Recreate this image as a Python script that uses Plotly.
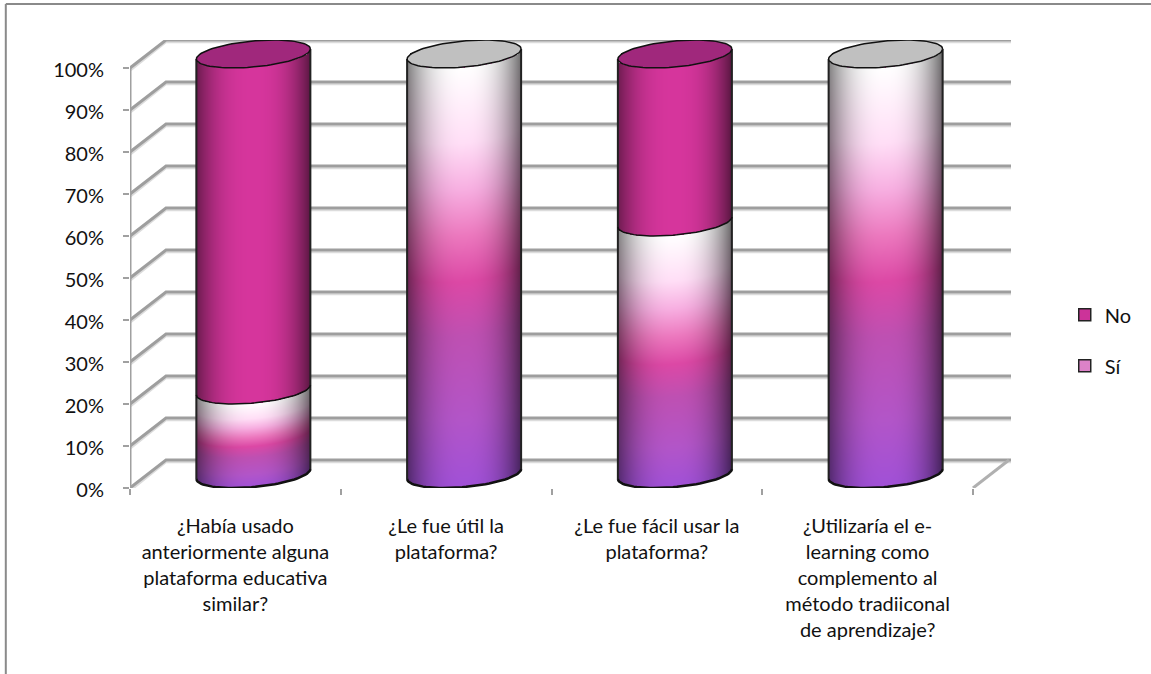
import numpy as np
import plotly.graph_objects as go

categories = [
    "¿Había usado<br>anteriormente alguna<br>plataforma educativa<br>similar?",
    "¿Le fue útil la<br>plataforma?",
    "¿Le fue fácil usar la<br>plataforma?",
    "¿Utilizaría el e-<br>learning como<br>complemento al<br>método tradiiconal<br>de aprendizaje?",
]
si_values = [20, 100, 60, 100]
no_values = [80, 0, 40, 0]
y_ticks = [0, 10, 20, 30, 40, 50, 60, 70, 80, 90, 100]

# geometry of the pseudo-3D box (pixels per unit)
PX_X, PX_Y = 210.75, 4.2
DX, DY = 36 / PX_X, 28 / PX_Y
X0, X1 = 0.5, 0.5 + 881 / PX_X
Y1 = 448 / PX_Y
SHIFT_X, SHIFT_Y = 18 / PX_X, 14 / PX_Y
A, B, K = 57.0, 13.0, 5.0   # ellipse half width, half height, skew (px)


def grad(f):
    stops = [0, 0.16, 0.36, 0.49, 0.6, 0.71, 0.82, 1.0]
    r = [160, 178, 190, 220, 236, 247, 255, 255]
    g = [80, 85, 80, 72, 120, 175, 222, 255]
    b = [215, 200, 178, 165, 190, 225, 246, 255]
    return np.stack([np.interp(f, stops, r), np.interp(f, stops, g), np.interp(f, stops, b)], -1)


def cylinder_image(si, no):
    cols = np.arange(-int(A), int(A) + 1)
    total = si + no
    rows = np.arange(-16, total * PX_Y + 18)
    xx, hh = np.meshgrid(cols, rows)
    u = np.clip(xx / A, -1, 1)
    e = K * u - B * np.sqrt(1 - u ** 2)
    v = (hh - e) / PX_Y
    rgb = np.where((v < si)[..., None], grad(np.clip(v / si, 0, 1)), np.array([214.0, 53.0, 156.0]))
    shade = 1 - np.where(u > 0, 0.58, 0.5) * np.abs(u) ** 2.5
    rgb = rgb * shade[..., None]
    alpha = ((v >= 0) & (v <= total)).astype(float)
    z = np.dstack([np.round(rgb), alpha])
    return z.tolist(), rows[0] / PX_Y


def arc(c, level, full=False):
    t = np.linspace(0, 2 * np.pi, 91) if full else np.linspace(np.pi, 2 * np.pi, 46)
    return c + A / PX_X * np.cos(t), level + (K * np.cos(t) + B * np.sin(t)) / PX_Y


fig = go.Figure()

# walls and gridlines
gx, gy, sx, sy = [], [], [], []
for t in y_ticks:
    gx += [X0, X0 + DX, X1, None]
    gy += [t, t + DY, t + DY, None]
    sx += [X0 + 0.004, X0 + DX, X1, None]
    sy += [t - 0.55, t + DY - 0.55, t + DY - 0.55, None]
common = dict(mode="lines", showlegend=False, hoverinfo="skip", cliponaxis=False)
fig.add_trace(go.Scatter(x=sx, y=sy, line=dict(color="#dcdcdc", width=2), **common))
fig.add_trace(go.Scatter(x=gx, y=gy, line=dict(color="#9e9e9e", width=3), **common))
fig.add_trace(go.Scatter(x=[X0, X0], y=[y_ticks[0], y_ticks[-1]], line=dict(color="#a0a0a0", width=3), **common))
fig.add_trace(go.Scatter(x=[X0, 4.5], y=[-0.4, -0.4], line=dict(color="#d8d8d8", width=3), **common))
fig.add_trace(go.Scatter(x=[4.5, 4.5 + DX], y=[0, DY], line=dict(color="#b0b0b0", width=3), **common))

# data bars (stacked), slightly narrower than the shaded cylinders laid over them
xs = [1, 2, 3, 4]
fig.add_trace(go.Bar(x=xs, y=si_values, name="Sí", width=0.5, xaxis="x2", yaxis="y2", legendgroup="a", legendrank=2,
                     marker=dict(color="#DC82C8", line=dict(color="#222222", width=1.5))))
fig.add_trace(go.Bar(x=xs, y=no_values, name="No", width=0.5, xaxis="x2", yaxis="y2", legendgroup="b", legendrank=1,
                     marker=dict(color="#CC3399", line=dict(color="#222222", width=1.5))))

# shaded cylinders
over = dict(xaxis="x3", yaxis="y3", showlegend=False, hoverinfo="skip")
for i, (si, no) in enumerate(zip(si_values, no_values)):
    c = xs[i]
    z, y_start = cylinder_image(si, no)
    fig.add_trace(go.Image(z=z, colormodel="rgba", x0=c - A / PX_X, dx=1 / PX_X, y0=y_start, dy=1 / PX_Y,
                           xaxis="x3", yaxis="y3", hoverinfo="skip"))
    total = si + no
    lx, ly = arc(c, 0)
    fig.add_trace(go.Scatter(x=lx, y=ly, mode="lines", line=dict(color="#111111", width=2.5), **over))
    for side in (-1, 1):
        sxx = c + side * A / PX_X
        off = side * K / PX_Y
        fig.add_trace(go.Scatter(x=[sxx, sxx], y=[off, total + off], mode="lines",
                                 line=dict(color="#222222", width=2), **over))
    if no > 0 and si > 0:
        lx, ly = arc(c, si)
        fig.add_trace(go.Scatter(x=lx, y=ly, mode="lines", line=dict(color="#111111", width=1.5), **over))
    cap = "#A0287C" if no > 0 else "#C0C0C0"
    lx, ly = arc(c, total, full=True)
    fig.add_trace(go.Scatter(x=lx, y=ly, mode="lines", fill="toself", fillcolor=cap,
                             line=dict(color="#111111", width=1.5), **over))

# outer frame (open at bottom and right)
frame = dict(color="#8a8a8a", width=2)
fig.add_shape(type="line", xref="paper", yref="paper", x0=(5.8 - 130) / 881, x1=(1151 - 130) / 881,
              y0=(674 - 186 - 4) / 448, y1=(674 - 186 - 4) / 448, line=frame)
fig.add_shape(type="line", xref="paper", yref="paper", x0=(5.8 - 130) / 881, x1=(5.8 - 130) / 881,
              y0=(674 - 186 - 4) / 448, y1=(674 - 186 - 674) / 448, line=frame)

fig.update_layout(
    width=1151, height=674, margin=dict(l=130, r=140, t=40, b=186, pad=0),
    paper_bgcolor="white", plot_bgcolor="rgba(0,0,0,0)", barmode="stack", bargap=0,
    font=dict(family="Lato, Carlito, Calibri, sans-serif", color="#111111"),
    xaxis=dict(type="linear", range=[X0, X1], autorange=False, showgrid=False, zeroline=False, showline=False,
               tickvals=xs, ticktext=categories, ticks="", tickangle=0, tickfont=dict(size=20), ticklabelstandoff=24,
               minor=dict(tickvals=[0.5, 1.5, 2.5, 3.5, 4.5], ticks="outside", ticklen=6, tickcolor="#a0a0a0", tickwidth=1.5)),
    yaxis=dict(type="linear", range=[0, Y1], autorange=False, scaleanchor=False, showgrid=False, zeroline=False, showline=False,
               tickvals=y_ticks, ticktext=[f"{t}%" for t in y_ticks], ticks="outside", ticklen=6, tickcolor="#a0a0a0",
               tickwidth=1.5, tickfont=dict(size=20), ticklabelstandoff=15, ticklabelshift=2),
    xaxis2=dict(type="linear", range=[X0 - SHIFT_X, X1 - SHIFT_X], overlaying="x", visible=False),
    yaxis2=dict(type="linear", range=[-SHIFT_Y, Y1 - SHIFT_Y], scaleanchor=False, overlaying="y", visible=False),
    xaxis3=dict(type="linear", range=[X0 - SHIFT_X, X1 - SHIFT_X], overlaying="x", visible=False),
    yaxis3=dict(type="linear", range=[-SHIFT_Y, Y1 - SHIFT_Y], scaleanchor=False, overlaying="y", visible=False),
    legend=dict(x=1.061, y=0.43, xanchor="left", yanchor="top", traceorder="grouped",
                tracegroupgap=22, font=dict(size=20), bgcolor="rgba(0,0,0,0)", itemwidth=30),
)
fig.write_html("out.html", config={"displayModeBar": False}, post_script="document.body.style.margin='0';")
